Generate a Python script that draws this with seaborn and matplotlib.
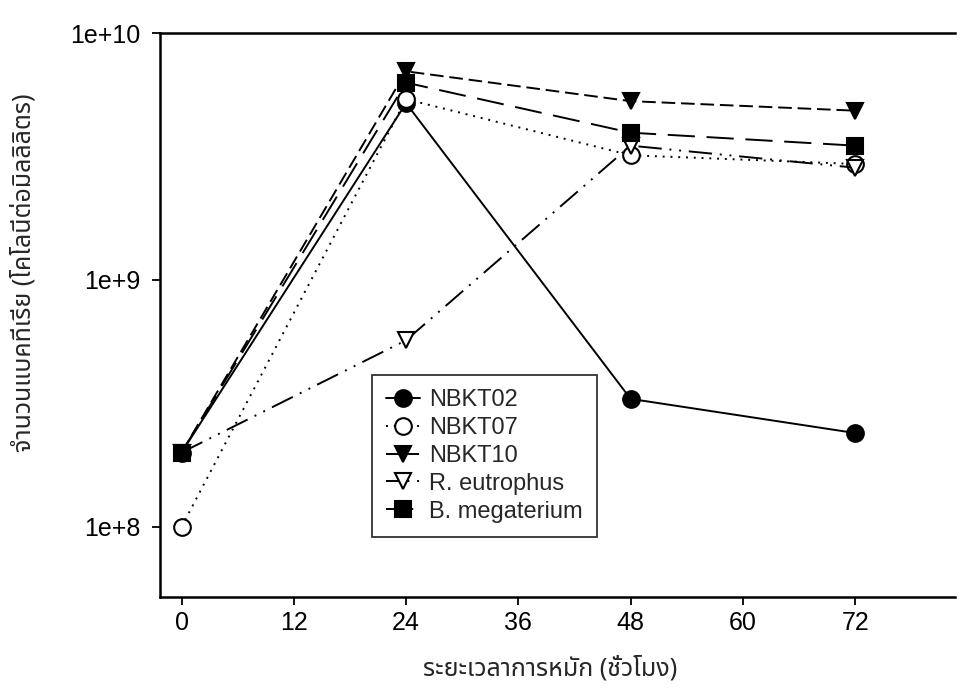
import matplotlib
matplotlib.use("Agg")
import matplotlib.pyplot as plt
import seaborn as sns

hours = [0, 24, 48, 72]
nbkt02 = [2.0e8, 5.2e9, 3.3e8, 2.4e8]
nbkt07 = [1.0e8, 5.4e9, 3.2e9, 2.95e9]
nbkt10 = [2.0e8, 7.0e9, 5.3e9, 4.85e9]
r_eutrophus = [2.0e8, 5.7e8, 3.5e9, 2.85e9]
b_megaterium = [2.0e8, 6.3e9, 3.95e9, 3.5e9]

series_names = ["NBKT02", "NBKT07", "NBKT10", "R. eutrophus", "B. megaterium"]
x_ticks = [0, 12, 24, 36, 48, 60, 72]
y_ticks = [1e8, 1e9, 1e10]
y_tick_labels = ["1e+8", "1e+9", "1e+10"]

sns.set_theme(style="ticks")
plt.rcParams["font.family"] = ["Liberation Sans", "DejaVu Sans"]

fig = plt.figure(figsize=(9.61, 6.89), dpi=100)
ax = fig.add_axes([0.1665, 0.1335, 0.8275, 0.8185])

styles = [
    (nbkt02, "o", "black", "-"),
    (nbkt07, "o", "white", (0, (1, 3))),
    (nbkt10, "v", "black", (0, (7, 3))),
    (r_eutrophus, "v", "white", (0, (12, 4, 1, 4, 1, 4))),
    (b_megaterium, "s", "black", (0, (14, 6))),
]

for name, (vals, mk, face, ls) in zip(series_names, styles):
    sns.lineplot(x=hours, y=vals, ax=ax, color="black", marker=mk,
                 markersize=12, markerfacecolor=face, markeredgecolor="black",
                 markeredgewidth=1.5, linestyle=ls, linewidth=1.4, label=name)

ax.set_yscale("log")
ax.set_ylim(5.2e7, 1e10)
ax.set_xlim(-2.3, 82.7)
ax.set_xticks(x_ticks)
ax.set_xticklabels([str(t) for t in x_ticks])
ax.set_yticks(y_ticks)
ax.set_yticklabels(y_tick_labels)
ax.minorticks_off()
ax.tick_params(axis="both", labelsize=18, length=6, width=1.3, color="black",
               labelcolor="black", pad=8)
ax.tick_params(axis="x", pad=4)
for side in ("left", "bottom", "top"):
    ax.spines[side].set_color("black")
    ax.spines[side].set_linewidth(1.8)
ax.spines["right"].set_visible(False)

thai = ["Noto Sans Thai", "Loma", "Garuda", "Norasi", "TlwgTypo", "Tahoma",
        "Noto Sans", "DejaVu Sans"]
ax.set_xlabel("ระยะเวลาการหมัก (ชั่วโมง)", fontsize=18, family=thai)
ax.set_ylabel("จำนวนแบคทีเรีย (โคโลนีต่อมิลลิลิตร)", fontsize=18, family=thai)
ax.xaxis.set_label_coords(0.49, -0.105)
ax.yaxis.set_label_coords(-0.155, 0.575)

leg = ax.legend(loc="upper left", bbox_to_anchor=(0.267, 0.394), frameon=True,
                fancybox=False, edgecolor="black", fontsize=17, handlelength=1.4,
                handletextpad=0.4, labelspacing=0.25, borderpad=0.6,
                borderaxespad=0)
leg.get_frame().set_linewidth(1.3)

fig.savefig("out.png", dpi=100, facecolor="white")
